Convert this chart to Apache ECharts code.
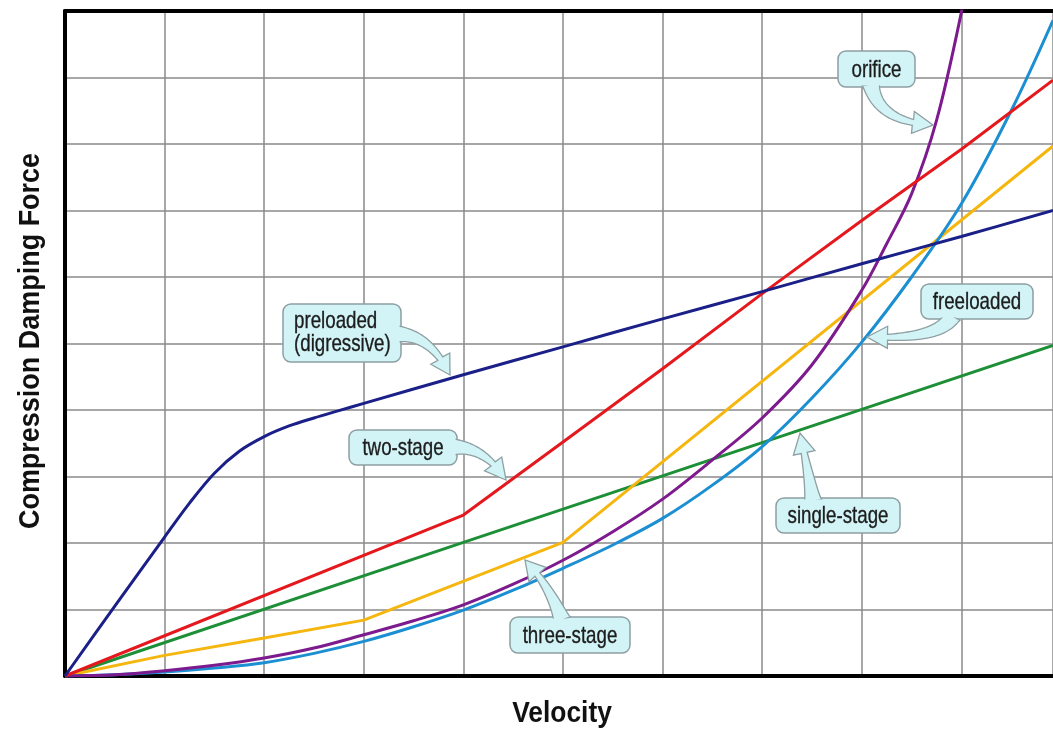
<!DOCTYPE html>
<html>
<head>
<meta charset="utf-8">
<script src="https://cdn.jsdelivr.net/npm/echarts@6/dist/echarts.min.js"></script>
<style>html,body{margin:0;padding:0;background:#fff}#c{width:1053px;height:730px}</style>
</head>
<body>
<div id="c"></div>
<script>
// ---- data (x = velocity in grid units, y = force in grid units) ----
const xTicks = [0,1,2,3,4,5,6,7,8,9];
const yTicks = [0,1,2,3,4,5,6,7,8,9,10];
const preloaded = [[0,0],[0.5,1.05],[1,2.09],[1.25,2.6],[1.5,3.05],[1.75,3.38],[2,3.6],[2.25,3.76],[2.5,3.88],[2.75,3.99],[3,4.1],[4,4.53],[5,4.95],[6,5.37],[7,5.78],[8,6.2],[9,6.61],[9.92,7.0]];
const twoStage = [[0,0],[4,2.42],[5,3.52],[6,4.62],[7,5.75],[8,6.85],[9,7.92],[9.92,8.96]];
const singleStage = [[0,0],[4,2.01],[8,4.01],[9.92,4.97]];
const threeStage = [[0,0],[1,0.31],[2,0.57],[3,0.84],[5,2.01],[9.92,7.97]];
const freeloaded = [[0,0],[0.5,0.02],[1,0.06],[1.5,0.12],[2,0.2],[2.5,0.34],[3,0.52],[3.5,0.74],[4,0.99],[4.5,1.29],[5,1.62],[5.5,1.97],[6,2.37],[6.5,2.87],[7,3.45],[7.5,4.18],[8,5.02],[8.5,6.0],[9,7.1],[9.5,8.5],[9.92,9.86]];
const orifice = [[0,0],[0.5,0.02],[1,0.08],[1.5,0.16],[2,0.27],[2.5,0.42],[3,0.62],[3.5,0.83],[4,1.07],[4.5,1.38],[5,1.74],[5.5,2.17],[6,2.66],[6.5,3.25],[7,3.88],[7.5,4.68],[8,5.8],[8.25,6.5],[8.5,7.25],[8.75,8.35],[9,9.98],[9.15,11.2]];
const xTitle = 'Velocity';
const yTitle = 'Compression Damping Force';

const chart = echarts.init(document.getElementById('c'), null, {renderer:'canvas'});
const GRID = '#8a8a8a';
const FILL = '#d3f4f7';
const EDGE = '#8d9fa2';
const FONT = "'Liberation Sans', Arial, sans-serif";

function line(name, data, color, smooth) {
  return {name, type:'line', data, showSymbol:false, symbol:'none', clip:true,
    smooth: smooth ? 0.35 : false,
    lineStyle:{color, width:3}, itemStyle:{color}, z:3};
}

// callouts: box (pixel layout), text, arrow start / control / tip
const callouts = [
  {text:'preloaded\n(digressive)', box:[283,304,118,58], align:'left', tx:294, ty:333, s:[396,334], c:[430,334], t:[450,375]},
  {text:'two-stage', box:[349,430,108,35], s:[452,447], c:[484,446], t:[506,480]},
  {text:'orifice', box:[838,51,77,36], s:[871,84], c:[878,122], t:[933,125]},
  {text:'freeloaded', box:[921,284,112,35], s:[952,316], c:[940,340], t:[867,337]},
  {text:'single-stage', box:[776,498,124,35], s:[813,501], c:[808,470], t:[800,433]},
  {text:'three-stage', box:[510,617,120,36], s:[562,620], c:[549,585], t:[525,560]}
];

function bez(s,c,t,u){const a=1-u;return [a*a*s[0]+2*a*u*c[0]+u*u*t[0], a*a*s[1]+2*a*u*c[1]+u*u*t[1]];}
function arrowPoly(s,c,t){
  const N=40, pts=[]; let L=[0];
  for(let i=0;i<=N;i++){pts.push(bez(s,c,t,i/N)); if(i>0){L.push(L[i-1]+Math.hypot(pts[i][0]-pts[i-1][0],pts[i][1]-pts[i-1][1]));}}
  const total=L[N], headLen=19, headW=22, w0=18, wN=6;
  let k=N; while(k>0 && total-L[k]<headLen) k--;
  const left=[], right=[];
  for(let i=0;i<=k;i++){
    const p=pts[i], q=pts[Math.min(i+1,N)], r=pts[Math.max(i-1,0)];
    let dx=q[0]-r[0], dy=q[1]-r[1]; const d=Math.hypot(dx,dy)||1; dx/=d; dy/=d;
    const f=L[i]/L[k]; const w=(w0+(wN-w0)*Math.pow(f,0.6))/2;
    left.push([p[0]-dy*w, p[1]+dx*w]); right.push([p[0]+dy*w, p[1]-dx*w]);
  }
  const n=pts[k]; let dx=t[0]-n[0], dy=t[1]-n[1]; const d=Math.hypot(dx,dy)||1; dx/=d; dy/=d;
  const hl=[n[0]-dy*headW/2, n[1]+dx*headW/2], hr=[n[0]+dy*headW/2, n[1]-dx*headW/2];
  return left.concat([hl, t, hr]).concat(right.reverse());
}

const graphics = [];
callouts.forEach(function(o){
  const b=o.box;
  graphics.push({type:'rect', z:100, shape:{x:b[0],y:b[1],width:b[2],height:b[3],r:8}, style:{fill:FILL, stroke:EDGE, lineWidth:1.5}});
  graphics.push({type:'polygon', z:101, shape:{points:arrowPoly(o.s,o.c,o.t)}, style:{fill:FILL, stroke:EDGE, lineWidth:1.3}});
  graphics.push({type:'rect', z:102, shape:{x:b[0]+1.5,y:b[1]+1.5,width:b[2]-3,height:b[3]-3,r:7}, style:{fill:FILL}});
  const left = o.align==='left';
  graphics.push({type:'text', z:103, x: left ? o.tx : b[0]+b[2]/2, y: left ? o.ty : b[1]+b[3]/2+1, scaleX:0.78,
    style:{text:o.text, x:0, y:0, fill:'#1c1c1c', stroke:'#1c1c1c', lineWidth:0.35, font:'24px '+FONT, lineHeight:23,
      align: left?'left':'center', textAlign: left?'left':'center', verticalAlign:'middle', textVerticalAlign:'middle'}});
});
graphics.push({type:'text', z:103, x:562, y:714, scaleX:0.91,
  style:{text:xTitle, x:0, y:0, fill:'#111', font:'bold 29px '+FONT, align:'center', textAlign:'center', verticalAlign:'middle', textVerticalAlign:'middle'}});
graphics.push({type:'text', z:103, x:31, y:341, rotation:Math.PI/2, scaleX:0.93,
  style:{text:yTitle, x:0, y:0, fill:'#111', font:'bold 29px '+FONT, align:'center', textAlign:'center', verticalAlign:'middle', textVerticalAlign:'middle'}});

const axisCommon = {
  axisLabel:{show:false}, axisTick:{show:false},
  axisLine:{show:true, onZero:false, lineStyle:{color:'#000', width:4}},
  splitLine:{show:true, lineStyle:{color:GRID, width:1.5}}
};

chart.setOption({
  animation:false,
  backgroundColor:'#fff',
  grid:{left:65, right:0, top:11, bottom:54, containLabel:false},
  xAxis:[
    Object.assign({type:'value', min:0, max:9.92, interval:1, position:'bottom'}, axisCommon),
    {type:'value', min:0, max:9.92, interval:1, position:'top', axisLabel:{show:false}, axisTick:{show:false}, splitLine:{show:false},
      axisLine:{show:true, onZero:false, lineStyle:{color:'#000', width:4}}}
  ],
  yAxis:Object.assign({type:'value', min:0, max:10, interval:1}, axisCommon),
  series:[
    line('single-stage', singleStage, '#1d8f36', false),
    line('three-stage', threeStage, '#f5b70f', false),
    line('freeloaded', freeloaded, '#1b8fd1', true),
    line('orifice', orifice, '#7c1a8e', true),
    line('two-stage', twoStage, '#e4181d', false),
    line('preloaded (digressive)', preloaded, '#1b2088', true)
  ],
  graphic:{elements:graphics}
});
</script>
</body>
</html>
